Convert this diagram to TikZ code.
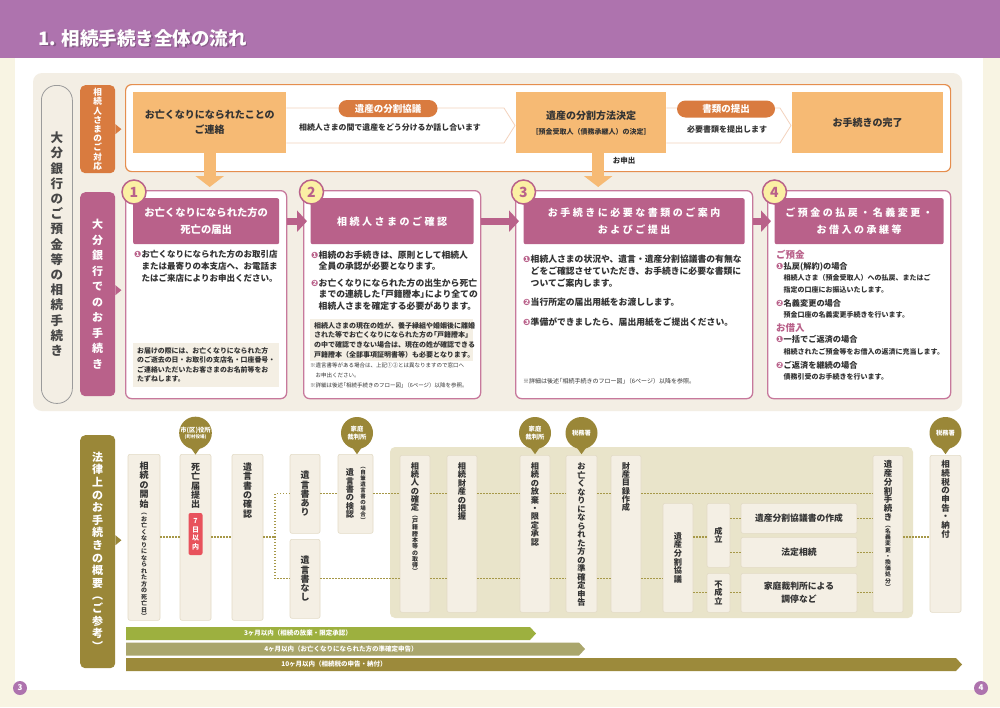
\documentclass[tikz,border=0pt]{standalone}
\usepackage{fontspec}
\setmainfont{Noto Sans CJK JP}
\newfontfamily\jpsp{Noto Sans CJK JP}[LetterSpace=25]
\newfontfamily\djv{DejaVu Sans}
\usetikzlibrary{positioning}
\usetikzlibrary{calc}
\usetikzlibrary{arrows.meta}

\definecolor{hdr}{HTML}{AE73AE}
\definecolor{cream}{HTML}{F8F4E3}
\definecolor{beige}{HTML}{F3EEE4}
\definecolor{orng}{HTML}{D97B3F}
\definecolor{peach}{HTML}{F6BA74}
\definecolor{obord}{HTML}{E58E4E}
\definecolor{chev}{HTML}{F3D2BD}
\definecolor{cpink}{HTML}{B9618A}
\definecolor{cardb}{HTML}{C7799C}
\definecolor{yel}{HTML}{FBF0A4}
\definecolor{note}{HTML}{F4EFE4}
\definecolor{oliv}{HTML}{9A8738}
\definecolor{olbg}{HTML}{E9E4CA}
\definecolor{colb}{HTML}{E3DBC6}
\definecolor{dotc}{HTML}{A69848}
\definecolor{badge}{HTML}{E8525C}
\definecolor{bara}{HTML}{9DB03F}
\definecolor{barb}{HTML}{AAA66C}
\definecolor{barc}{HTML}{9C8A3B}
\definecolor{txt}{HTML}{333333}
\definecolor{pill}{HTML}{9B9B9B}

% vertical (tategaki) text: one glyph per row
\ExplSyntaxOn
\NewDocumentCommand \vt { O{0.5pt} m }
  {
    \vtop
      {
        \offinterlineskip
        \tl_map_inline:nn {#2}
          {
            \hbox_to_wd:nn { 0pt }
              { \hss \vrule ~ height ~ .88em ~ depth ~ .12em ~ width ~ 0pt \relax ##1 \hss }
            \kern #1 \relax
          }
        \unkern
      }
  }
\ExplSyntaxOff
\newcommand\vcol[3][7pt]{\vbox to #2{\offinterlineskip\kern#1#3\vss}}
\newcommand\cn[1]{\makebox[7.5pt][l]{\djv\fontsize{8.6}{8}\selectfont\color{cpink}#1}}
\newcommand\ind{\hspace*{7.5pt}}
\newcommand\lb{\makebox[.55em][r]{「}}
\newcommand\rb{\makebox[.55em][l]{」}}

\begin{document}
\begin{tikzpicture}[
    x=1pt, y=-1pt,                 % pixel units, y grows downward
    ]
% -------------------------------------------------
\tikzset{
  base/.style={inner sep=0pt, align=center},
  lab/.style={base, rounded corners=5pt, anchor=north west, text=white},
  box/.style={base, fill=peach, anchor=north west, minimum height=61pt, text=txt, font=\bfseries\fontsize{10}{15}\selectfont},
  pl/.style={base, fill=orng, rounded corners=8.5pt, minimum height=17pt, text=white, font=\bfseries\fontsize{9.5}{10}\selectfont},
  card/.style={draw=cardb, line width=1.3pt, fill=white, rounded corners=6pt, anchor=north west, minimum height=208pt},
  head/.style={base, fill=cpink, rounded corners=2pt, anchor=north, minimum height=46pt, text=white},
  num/.style={circle, fill=yel, draw=cpink, line width=1.5pt, minimum size=24pt, inner sep=0pt, text=cpink, font=\bfseries\fontsize{14}{14}\selectfont},
  body/.style={anchor=north west, inner sep=0pt, align=left, text=txt},
  note/.style={body, fill=note, inner sep=4pt, font=\bfseries\fontsize{7}{9.6}\selectfont},
  col/.style={base, anchor=north, fill=note, draw=colb, line width=0.6pt, rounded corners=2pt, text=txt, font=\bfseries\fontsize{9}{9}\selectfont},
  mid/.style={col, font=\bfseries\fontsize{8.2}{9}\selectfont},
  bub/.style={circle, fill=oliv, minimum size=32pt, inner sep=0pt, align=center, text=white, font=\bfseries\fontsize{6.3}{7.5}\selectfont},
  dot/.style={draw=dotc, line width=1.2pt, dash pattern=on 1.2pt off 1.8pt},
  blk/.style={line width=12pt, draw=peach, -{Triangle[width=28pt, length=11pt]}},
  pk/.style={line width=7pt, draw=cpink, -{Triangle[width=21pt, length=10pt]}},
  bartxt/.style={base, text=white, font=\bfseries\fontsize{6.5}{7}\selectfont},
}
\useasboundingbox (0,0) rectangle (1000,707);

% page and header
\fill[cream] (0,0) rectangle (1000,707);
\fill[white] (15,58) rectangle (983,690);
\fill[hdr] (0,0) rectangle (1000,58);
\node[anchor=base west, text=hdr!50!black, opacity=0.45, font=\bfseries\fontsize{18.5}{18}\selectfont] (tsh) at (36.5,46.5) {1. 相続手続き全体の流れ};
\node[anchor=base west, text=white, font=\bfseries\fontsize{18.5}{18}\selectfont] (title) at (35,45) {1. 相続手続き全体の流れ};

% ------------------------------------------------- bank part
\fill[beige, rounded corners=9pt] (33,73) rectangle (962,411);
\node[draw=pill, line width=0.8pt, rounded corners=15pt, anchor=north west, minimum width=31pt, minimum height=318pt, inner sep=0pt, text=txt!90, font=\bfseries\fontsize{12.5}{13}\selectfont] (bank) at (41,85) {\vt[2.7pt]{大分銀行のご預金等の相続手続き}};

\node[lab, fill=orng, minimum width=35pt, minimum height=88pt, font=\bfseries\fontsize{8.6}{9}\selectfont] (lab1) at (80,85) {\vt[0.6pt]{相続人さまのご対応}};
\fill[orng] ([yshift=5pt]lab1.east) -- ([xshift=6pt]lab1.east) -- ([yshift=-5pt]lab1.east) -- cycle;

\node[draw=obord, line width=1.2pt, fill=white, rounded corners=6pt, anchor=north west, minimum width=825pt, minimum height=87pt] (resp) at (125,84) {};

\node[box, minimum width=153pt] (bA) at (133,92) {お亡くなりになられたことの\\ご連絡};
\node[box, minimum width=150pt] (bB) at (516,92) {遺産の分割方法決定\\{\fontsize{7}{9}\selectfont ［預金受取人（債務承継人）の決定］}};
\node[box, minimum width=151pt] (bC) at (792,92) {お手続きの完了};

\draw[chev, line width=0.8pt] (bA.east |- 0,108) -- ($(bB.west |- 0,108)+(-12,0)$) -- ($(bB.west |- 0,125.5)+(-1,0)$) -- ($(bB.west |- 0,143)+(-12,0)$) -- (bA.east |- 0,143);
\draw[chev, line width=0.8pt] (bB.east |- 0,108) -- ($(bC.west |- 0,108)+(-12,0)$) -- ($(bC.west |- 0,125.5)+(-1,0)$) -- ($(bC.west |- 0,143)+(-12,0)$) -- (bB.east |- 0,143);

\node[pl, minimum width=99pt] (p1) at (388,108.5) {遺産の分割協議};
\node[text=txt, font=\bfseries\fontsize{7.9}{8}\selectfont] (d1) at (390,128) {相続人さまの間で遺産をどう分けるか話し合います};
\node[pl, minimum width=98pt] (p2) at (726,109) {書類の提出};
\node[text=txt, font=\bfseries\fontsize{8}{8}\selectfont] (d2) at (727,129) {必要書類を提出します};

% ------------------------------------------------- steps 1-4
\node[lab, fill=cpink, minimum width=35pt, minimum height=204pt, font=\bfseries\fontsize{11}{11}\selectfont] (lab2) at (80,192) {\vt[4.5pt]{大分銀行でのお手続き}};
\fill[cpink] ([yshift=9pt]lab2.east) -- ([xshift=6pt,yshift=4pt]lab2.east) -- ([yshift=-1pt]lab2.east) -- cycle;

\node[card, minimum width=161pt] (c1) at (125,190) {};
\node[card, minimum width=177pt] (c2) at (303,190) {};
\node[card, minimum width=237pt] (c3) at (515,190) {};
\node[card, minimum width=183pt] (c4) at (767,190) {};

\draw[blk, shorten >=3pt] (bA.south) -- (bA.south |- c1.north);
\draw[blk, shorten >=3pt] ($(bB.south)+(7,0)$) -- ($(bB.south |- c3.north)+(7,0)$);
\node[text=txt, font=\bfseries\fontsize{7.5}{8}\selectfont] (ask) at (624,161) {お申出};

\node[head, minimum width=146pt, font=\bfseries\fontsize{10.3}{17}\selectfont] (h1) at ([yshift=-8pt]c1.north) {お亡くなりになられた方の\\死亡の届出};
\node[head, minimum width=163pt, font=\jpsp\bfseries\fontsize{10}{17}\selectfont] (h2) at ([yshift=-8pt]c2.north) {相続人さまのご確認};
\node[head, minimum width=221pt, font=\jpsp\bfseries\fontsize{10}{16.5}\selectfont] (h3) at ([yshift=-8pt]c3.north) {お手続きに必要な書類のご案内\\およびご提出};
\node[head, minimum width=169pt, font=\jpsp\bfseries\fontsize{10}{16.5}\selectfont] (h4) at ([yshift=-8pt]c4.north) {ご預金の払戻・名義変更・\\お借入の承継等};

\node[num] (n1) at ([xshift=9pt,yshift=-2pt]c1.north west) {1};
\node[num] (n2) at ([xshift=8.5pt,yshift=-2pt]c2.north west) {2};
\node[num] (n3) at ([xshift=8.5pt,yshift=-2pt]c3.north west) {3};
\node[num] (n4) at ([xshift=7.5pt,yshift=-2pt]c4.north west) {4};

\draw[pk, shorten >=-4pt] (c1.east |- h1) -- (c2.west |- h1);
\draw[pk, shorten >=-4pt] (c2.east |- h1) -- (c3.west |- h1);
\draw[pk, shorten >=-4pt] (c3.east |- h1) -- (c4.west |- h1);

\node[body, text width=152pt, font=\bfseries\fontsize{8.5}{12}\selectfont] (t1) at (134,249.5) {\cn{❶}お亡くなりになられた方のお取引店\\\ind または最寄りの本支店へ、お電話ま\\\ind たはご来店によりお申出ください。};
\node[note, text width=138pt, font=\bfseries\fontsize{6.9}{9.6}\selectfont] (t1n) at (133,343) {お届けの際には、お亡くなりになられた方\\のご逝去の日・お取引の支店名・口座番号・\\ご連絡いただいたお客さまのお名前等をお\\たずねします。};

\node[body, text width=170pt, font=\bfseries\fontsize{8.8}{11.8}\selectfont] (t2) at (311,250.3) {\cn{❶}相続のお手続きは、原則として相続人\\\ind 全員の承認が必要となります。\\[4.5pt]\cn{❷}お亡くなりになられた方の出生から死亡\\\ind までの連続した\lb 戸籍謄本\rb により全ての\\\ind 相続人さまを確定する必要があります。};
\node[note, text width=155pt, inner ysep=3pt] (t2n) at (310,319) {相続人さまの現在の姓が、養子縁組や婚姻後に離婚\\された等でお亡くなりになられた方の\lb 戸籍謄本\rb\\の中で確認できない場合は、現在の姓が確認できる\\戸籍謄本（全部事項証明書等）も必要となります。};
\node[body, text width=170pt, font=\fontsize{5.5}{10}\selectfont] (t2s) at (310,363) {※遺言書等がある場合は、上記①②とは異なりますので窓口へ\\\hspace*{5.5pt}お申出ください。\\※詳細は後述\lb 相続手続きのフロー図\rb（6ページ）以降を参照。};

\node[body, text width=230pt, font=\bfseries\fontsize{8.8}{12.4}\selectfont] (t3) at (523,254.3) {\cn{❶}相続人さまの状況や、遺言・遺産分割協議書の有無な\\\ind どをご確認させていただき、お手続きに必要な書類に\\\ind ついてご案内します。\\[6.5pt]\cn{❷}当行所定の届出用紙をお渡しします。\\[7.5pt]\cn{❸}準備ができましたら、届出用紙をご提出ください。};
\node[body, text width=220pt, font=\fontsize{6}{8}\selectfont] (t3s) at (523,378) {※詳細は後述\lb 相続手続きのフロー図\rb（6ページ）以降を参照。};

\node[body, text width=180pt, font=\bfseries\fontsize{7}{11.3}\selectfont] (t4) at (776,249.6) {{\color{cpink}\fontsize{9.5}{11.3}\selectfont ご預金}\\{\fontsize{8.2}{11.3}\selectfont\cn{❶}払戻(解約)の場合}\\\ind 相続人さま（預金受取人）への払戻、またはご\\\ind 指定の口座にお振込いたします。\\[3pt]{\fontsize{8.2}{11.3}\selectfont\cn{❷}名義変更の場合}\\\ind 預金口座の名義変更手続きを行います。\\[2.5pt]{\color{cpink}\fontsize{9.5}{11.3}\selectfont お借入}\\{\fontsize{8.2}{11.3}\selectfont\cn{❶}一括でご返済の場合}\\\ind 相続されたご預金等をお借入の返済に充当します。\\[3pt]{\fontsize{8.2}{11.3}\selectfont\cn{❷}ご返済を継続の場合}\\\ind 債務引受のお手続きを行います。};

% ------------------------------------------------- legal outline
\node[lab, fill=oliv, minimum width=35pt, minimum height=233pt, font=\bfseries\fontsize{11}{11}\selectfont] (lab3) at (80,435) {\vt[1.6pt]{法律上のお手続きの概要︵ご参考︶}};
\fill[oliv] ([yshift=16.5pt]lab3.east) -- ([xshift=6pt,yshift=11.5pt]lab3.east) -- ([yshift=6.5pt]lab3.east) -- cycle;

\fill[olbg, rounded corners=5pt] (390,447) rectangle (913,618);

\node[col, minimum width=32pt] (k1) at (144,454) {\vcol{166pt}{\vt[0.5pt]{相続の開始}\kern1pt{\fontsize{6}{6}\selectfont\vt[0.5pt]{︵お亡くなりになられた方の死亡日︶}}}};
\node[col, minimum width=31pt] (k2) at (195.5,454) {\vcol[8pt]{166pt}{\vt[0.4pt]{死亡届提出}}};
\node[base, fill=badge, rounded corners=2pt, minimum width=14pt, minimum height=42pt, text=white, font=\bfseries\fontsize{7}{7}\selectfont] (bd) at (195.5,534) {\vt[1.5pt]{7日以内}};
\node[col, minimum width=31pt] (k3) at (247.5,454) {\vcol[8pt]{166pt}{\vt[0.4pt]{遺言書の確認}}};
\node[col, minimum width=30pt, minimum height=79pt] (k4a) at (305,454) {\vt[0.2pt]{遺言書あり}};
\node[col, minimum width=30pt, minimum height=79pt] (k4b) at (305,539) {\vt[0.2pt]{遺言書なし}};
\node[mid, minimum width=35pt] (k5) at (355.5,454) {\vbox to 79pt{\offinterlineskip\kern9pt\hbox{\vt[0.2pt]{遺言書の検認}\kern13pt\raise7.6pt\hbox{\fontsize{5.5}{6}\selectfont\vt[0.5pt]{︵自筆遺言書の場合︶}}\kern-2pt}\vss}};

\node[mid, minimum width=30pt] (k6) at (415,455) {\vcol{157pt}{\vt[0pt]{相続人の確定}\kern0.5pt{\fontsize{6}{6}\selectfont\vt[0.3pt]{︵戸籍謄本等の取得︶}}}};
\node[mid, minimum width=30pt] (k7) at (462,455) {\vcol{157pt}{\vt[0.2pt]{相続財産の把握}}};
\node[mid, minimum width=30pt] (k8) at (535,455) {\vcol{157pt}{\vt[0.2pt]{相続の放棄・限定承認}}};
\node[mid, minimum width=31pt] (k9) at (581.5,455) {\vcol{157pt}{\vt[0.3pt]{お亡くなりになられた方の準確定申告}}};
\node[mid, minimum width=30pt] (k10) at (626,455) {\vcol{157pt}{\vt[0pt]{財産目録作成}}};
\node[mid, minimum width=30pt, minimum height=109pt] (k11) at (678,503) {\vt[0.5pt]{遺産分割協議}};
\node[mid, minimum width=23pt, minimum height=64pt] (k12a) at (718.5,503) {\vt[0.5pt]{成立}};
\node[mid, minimum width=23pt, minimum height=39pt] (k12b) at (718.5,573) {\vt[0.5pt]{不成立}};
\node[col, minimum width=116pt, minimum height=30pt, font=\bfseries\fontsize{8.8}{13}\selectfont] (k13a) at (799,503) {遺産分割協議書の作成};
\node[col, minimum width=116pt, minimum height=30pt, font=\bfseries\fontsize{8.8}{13}\selectfont] (k13b) at (799,537) {法定相続};
\node[col, minimum width=116pt, minimum height=39pt, font=\bfseries\fontsize{8.8}{13}\selectfont] (k13c) at (799,573) {家庭裁判所による\\調停など};
\node[mid, minimum width=30pt, font=\bfseries\fontsize{8.5}{9}\selectfont] (k14) at (888,455) {\vcol[5pt]{157pt}{\vt[0.3pt]{遺産分割手続き}\kern0.5pt{\fontsize{5.8}{6}\selectfont\vt[0.4pt]{︵名義変更・換価処分︶}}}};
\node[mid, minimum width=31pt, font=\bfseries\fontsize{8.5}{9}\selectfont] (k15) at (945.5,455) {\vcol[5pt]{157pt}{\vt[0.2pt]{相続税の申告・納付}}};

% offices
\node[bub] (bb1) at (195.5,433) {市(区)役所\\[-1.5pt]{\fontsize{4.5}{5}\selectfont (町村役場)}};
\node[bub] (bb2) at (357,433) {家庭\\裁判所};
\node[bub] (bb3) at (535,433) {家庭\\裁判所};
\node[bub] (bb4) at (581.5,433) {税務署};
\node[bub] (bb5) at (945.5,433) {税務署};
\foreach \b in {bb1,bb2,bb3,bb4,bb5}
  \fill[oliv] ([xshift=-5pt,yshift=2pt]\b.south) -- ([yshift=-5pt]\b.south) -- ([xshift=5pt,yshift=2pt]\b.south) -- cycle;

% dotted flow
\coordinate (jn) at (275,537);
\draw[dot] (k1.east |- jn) -- (k2.west |- jn);
\draw[dot] (k2.east |- jn) -- (k3.west |- jn);
\draw[dot] (k3.east |- jn) -- (jn);
\draw[dot] (k4a.west) -| (jn) |- (k4b.west);
\draw[dot] (k4a.east) -- (k5.west |- k4a);
\draw[dot] (k5.east |- k4a) -- (k6.west |- k4a);
\draw[dot] (k6.east |- k4a) -- (k7.west |- k4a);
\draw[dot] (k7.east |- k4a) -- (k8.west |- k4a);
\draw[dot] (k8.east |- k4a) -- (k9.west |- k4a);
\draw[dot] (k9.east |- k4a) -- (k10.west |- k4a);
\draw[dot] (k10.east |- k4a) -- (k14.west |- k4a);
\draw[dot] (k4b.east) -- (k6.west |- k4b);
\draw[dot] (k6.east |- k4b) -- (k7.west |- k4b);
\draw[dot] (k7.east |- k4b) -- (k8.west |- k4b);
\draw[dot] (k8.east |- k4b) -- (k9.west |- k4b);
\draw[dot] (k9.east |- k4b) -- (k10.west |- k4b);
\draw[dot] (k10.east |- k4b) -- (k11.west |- k4b);
\draw[dot] (k11.east |- jn) -- (k12a.west |- jn);
\draw[dot] (k11.east |- k12b) -- (k12b.west);
\draw[dot] (k12a.east |- k13a) -- (k13a.west);
\draw[dot] (k12a.east |- k13b) -- (k13b.west);
\draw[dot] (k12b.east) -- (k13c.west);
\draw[dot] (k13a.east) -- (k14.west |- k13a);
\draw[dot] (k13b.east) -- (k14.west |- k13b);
\draw[dot] (k13c.east) -- (k14.west |- k13c);
\draw[dot] (k14.east |- jn) -- (k15.west |- jn);

% time limits
\fill[bara] (126,627) -- (530,627) -- (536,633.5) -- (530,640) -- (126,640) -- cycle;
\node[bartxt] (m3) at (298,633.5) {3ヶ月以内（相続の放棄・限定承認）};
\fill[barb] (126,642.5) -- (579,642.5) -- (585,649) -- (579,655.5) -- (126,655.5) -- cycle;
\node[bartxt] (m4) at (341,649) {4ヶ月以内（お亡くなりになられた方の準確定申告）};
\fill[barc] (126,658) -- (956,658) -- (962,664.5) -- (956,671) -- (126,671) -- cycle;
\node[bartxt] (m10) at (334,664.5) {10ヶ月以内（相続税の申告・納付）};

% page numbers
\node[circle, fill=hdr, minimum size=14pt, inner sep=0pt, text=white, font=\bfseries\fontsize{8}{8}\selectfont] (pg3) at (20,688) {3};
\node[circle, fill=hdr, minimum size=14pt, inner sep=0pt, text=white, font=\bfseries\fontsize{8}{8}\selectfont] (pg4) at (981,688) {4};
\end{tikzpicture}
\end{document}
